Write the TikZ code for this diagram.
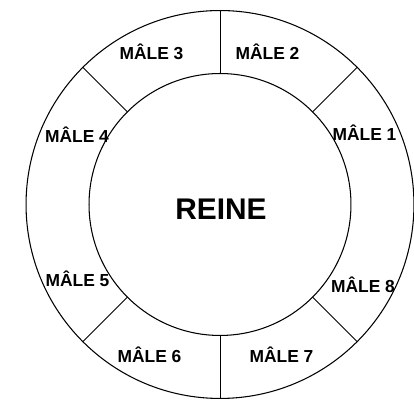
\documentclass[tikz,border=0pt]{standalone}
\usepackage{fontspec}
\setmainfont{Liberation Sans}
\usepackage{tikz}
\usetikzlibrary{positioning}

\tikzset{
  ring/.style={draw,circle,line width=0.6pt,outer sep=0pt,inner sep=0pt},
  divider/.style={line width=0.5pt},
  male/.style={anchor=base,inner sep=0pt,font=\fontsize{9.9}{11}\selectfont\bfseries}
}

\begin{document}
\begin{tikzpicture}[x=0.02cm,y=-0.02cm]
\useasboundingbox (0,0) rectangle (414,401);
\node[ring,minimum size=7.76cm] (ruche) at (220,204.5) {};
\node[ring,minimum size=5.24cm,font=\fontsize{17}{20}\selectfont\bfseries] (reine) at (220,204.5) {};
\node[anchor=base,inner sep=0pt,font=\fontsize{17}{20}\selectfont\bfseries] (reinetxt) at (221,220) {REINE};
% separations between the males
\foreach \ang in {45,90,135,225,270,315}{
  \draw[divider] (reine.\ang) -- (ruche.\ang);
}
\node[male] (m1) at (364.5,140.5) {MÂLE 1};
\node[male] (m2) at (267.5,59.5) {MÂLE 2};
\node[male] (m3) at (151.5,60) {MÂLE 3};
\node[male] (m4) at (77,143) {MÂLE 4};
\node[male] (m5) at (77.5,287) {MÂLE 5};
\node[male] (m6) at (149.5,362.5) {MÂLE 6};
\node[male] (m7) at (281.5,363) {MÂLE 7};
\node[male] (m8) at (363,292.5) {MÂLE 8};
\end{tikzpicture}
\end{document}
